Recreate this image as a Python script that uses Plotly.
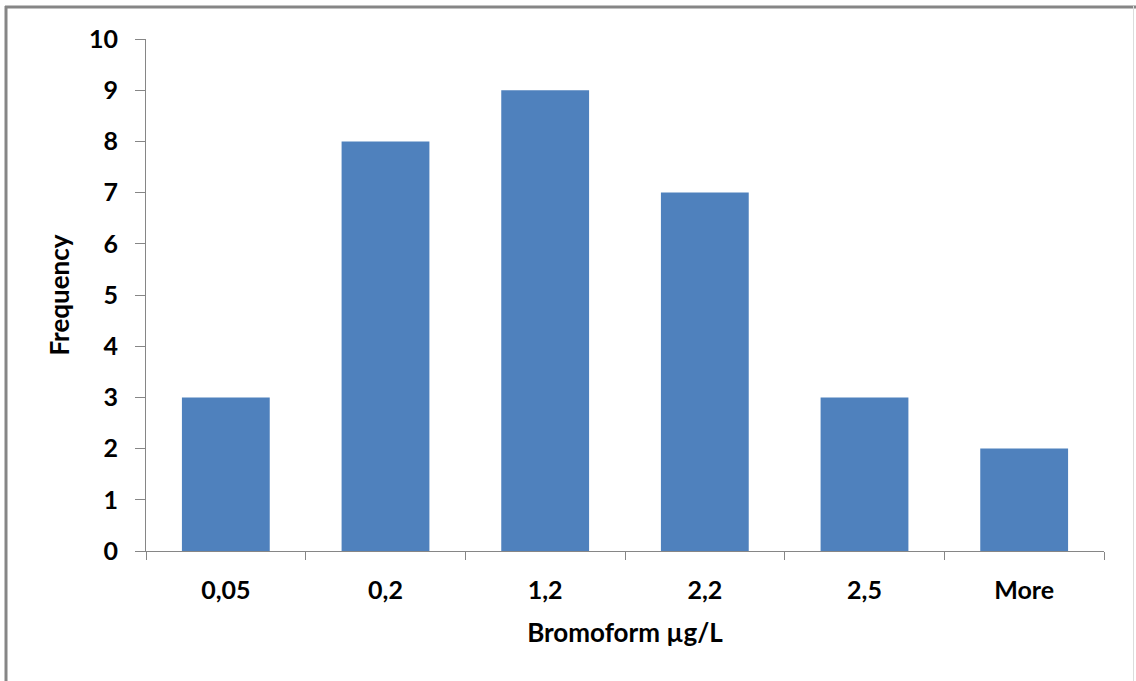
import plotly.graph_objects as go

categories = ["0,05", "0,2", "1,2", "2,2", "2,5", "More"]
frequency = [3, 8, 9, 7, 3, 2]
y_ticks = list(range(0, 11))

FONT = "Lato"
AX = "#868686"
TICK = dict(family=FONT, size=25, color="black", weight="bold")
TITLE = dict(family=FONT, size=26, color="black", weight="bold")

fig = go.Figure(go.Bar(x=categories, y=frequency, marker=dict(color="#4F81BD", line=dict(width=0))))

fig.update_layout(
    width=1136, height=681,
    margin=dict(l=146, r=32, t=39, b=130),
    paper_bgcolor="white", plot_bgcolor="white",
    bargap=0.45, showlegend=False,
    font=TICK,
)
fig.update_xaxes(
    type="category", tickson="boundaries", ticks="outside", ticklen=8, tickcolor=AX, tickwidth=1,
    showline=True, linecolor=AX, linewidth=1, showgrid=False,
    ticklabelstandoff=17,
    tickfont=TICK,
    title=dict(text="Bromoform µg/L", font=TITLE, standoff=20),
)
fig.update_yaxes(
    range=[0, 10], tickvals=y_ticks, ticks="outside", ticklen=10, tickcolor=AX, tickwidth=1,
    showline=True, linecolor=AX, linewidth=1, showgrid=False, zeroline=False,
    ticklabelstandoff=12,
    tickfont=TICK,
    title=dict(text="Frequency", font=TITLE, standoff=11),
)
# outer chart border
fig.add_shape(type="line", xref="paper", yref="paper", x0=-141/958, x1=1129/958, y0=1+32/512, y1=1+32/512,
              line=dict(color=AX, width=3))
fig.add_shape(type="line", xref="paper", yref="paper", x0=-140/958, x1=-140/958, y0=1+33/512, y1=-140/512,
              line=dict(color=AX, width=3))
fig.add_shape(type="line", xref="paper", yref="paper", x0=987.5/958, x1=987.5/958, y0=1+33/512, y1=-140/512,
              line=dict(color="#dcdcdc", width=1))

fig.write_html("out.html", config={"displayModeBar": False},
               post_script="document.body.style.margin='0';document.body.style.overflow='hidden';")
